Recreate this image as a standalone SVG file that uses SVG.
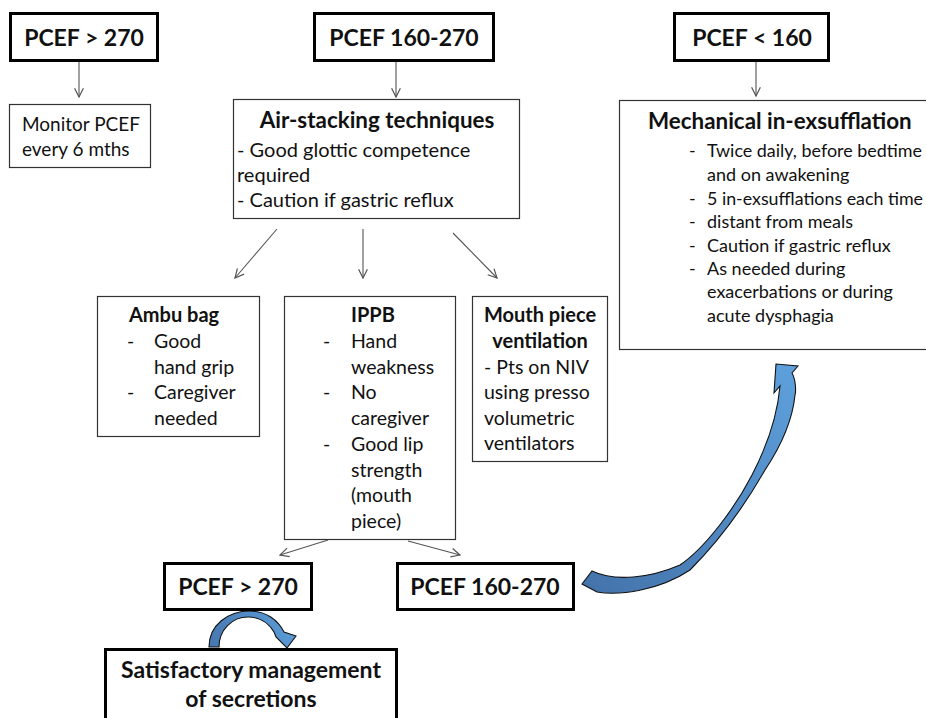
<svg xmlns="http://www.w3.org/2000/svg" width="926" height="718" viewBox="0 0 926 718">
<style>
text{font-family:Lato,Carlito,"Liberation Sans",sans-serif;fill:#111}
.h{font-size:23px;font-weight:bold;text-anchor:middle}
.t{font-size:20px;font-weight:bold}
.tb{font-size:22.4px;font-weight:bold}
.r{font-size:19.5px}
.ra{font-size:20px}
.rm{font-size:18px}
.rn{font-size:19px}
.c{text-anchor:middle}
.thick{fill:#fff;stroke:#000;stroke-width:3}
.thin{fill:#fff;stroke:#333;stroke-width:1.2}
.con{stroke:#555;stroke-width:1.1;fill:none;marker-end:url(#v)}
.blue{stroke:#111;stroke-width:1.1}
</style>
<defs>
<marker id="v" viewBox="0 0 10 10" refX="9" refY="5" markerWidth="11" markerHeight="11" markerUnits="userSpaceOnUse" orient="auto">
<path d="M1,1 L9,5 L1,9" fill="none" stroke="#555" stroke-width="1.1"/>
</marker>
<linearGradient id="g1" gradientUnits="userSpaceOnUse" x1="800" y1="365" x2="600" y2="595">
<stop offset="0" stop-color="#5ea1dd"/>
<stop offset="1" stop-color="#4574ac"/>
</linearGradient>
<linearGradient id="g2" gradientUnits="userSpaceOnUse" x1="290" y1="615" x2="210" y2="647">
<stop offset="0" stop-color="#5b9cd7"/>
<stop offset="1" stop-color="#4777b0"/>
</linearGradient>
</defs>
<rect width="926" height="718" fill="#fff"/>

<g id="connectors">
<line class="con" x1="79" y1="62" x2="79" y2="97"/>
<line class="con" x1="396" y1="62" x2="396" y2="97"/>
<line class="con" x1="756" y1="62" x2="756" y2="96"/>
<line class="con" x1="277" y1="229" x2="235" y2="278"/>
<line class="con" x1="363" y1="229" x2="363" y2="278"/>
<line class="con" x1="453" y1="233" x2="497" y2="278"/>
<line class="con" x1="328" y1="540" x2="280" y2="555"/>
<line class="con" x1="408" y1="541" x2="460" y2="555"/>
<path id="arrow-big" class="blue" fill="url(#g1)" d="M592,571 C615,582 650,578 680,565 C705,548 735,508 752,475 C765,450 777,420 780,386 L774,393 L776,364 L798,366 L792,373 C796,380 796,392 795,395 C793,415 785,440 765,470 C745,505 720,540 690,570 C660,590 620,596 597,592 L582,584 Z"/>
<path id="arrow-small" class="blue" fill="url(#g2)" d="M209,647 C209,625 228,611 250,611 C266,611 278,620 284,632 L296,636 L287,648 L276,637 L274,632 C268,622 258,617 248,617 C232,617 219,630 219,647 Z"/>
</g>

<g id="n-pcef270-top">
<rect class="thick" x="10.5" y="13.5" width="147" height="47"/>
<text class="h" x="84" y="46">PCEF &gt; 270</text>
</g>
<g id="n-pcef160270-top">
<rect class="thick" x="314.5" y="13.5" width="179" height="47"/>
<text class="h" x="404" y="46">PCEF 160-270</text>
</g>
<g id="n-pcef160-top">
<rect class="thick" x="674.5" y="13.5" width="154" height="47"/>
<text class="h" x="752" y="46">PCEF &lt; 160</text>
</g>

<g id="n-monitor">
<rect class="thin" x="9.5" y="104.5" width="141" height="63"/>
<text class="rn" x="22" y="131">Monitor PCEF</text>
<text class="rn" x="22" y="156">every 6 mths</text>
</g>

<g id="n-airstack">
<rect class="thin" x="233.5" y="99.5" width="286" height="119"/>
<text class="tb c" x="377" y="128">Air-stacking techniques</text>
<text class="ra" x="237" y="157">- Good glottic competence</text>
<text class="ra" x="237" y="182">required</text>
<text class="ra" x="237" y="207">- Caution if gastric reflux</text>
</g>

<g id="n-mie">
<rect class="thin" x="619.5" y="100.5" width="320" height="249"/>
<text class="tb" x="648" y="129">Mechanical in-exsufflation</text>
<text class="rm" x="689" y="157">-</text><text class="rm" x="707" y="157" textLength="215" lengthAdjust="spacingAndGlyphs">Twice daily, before bedtime</text>
<text class="rm" x="707" y="181">and on awakening</text>
<text class="rm" x="689" y="205">-</text><text class="rm" x="707" y="205" textLength="216" lengthAdjust="spacingAndGlyphs">5 in-exsufflations each time</text>
<text class="rm" x="689" y="228">-</text><text class="rm" x="707" y="228">distant from meals</text>
<text class="rm" x="689" y="252">-</text><text class="rm" x="707" y="252">Caution if gastric reflux</text>
<text class="rm" x="689" y="275">-</text><text class="rm" x="707" y="275">As needed during</text>
<text class="rm" x="707" y="298">exacerbations or during</text>
<text class="rm" x="707" y="322">acute dysphagia</text>
</g>

<g id="n-ambu">
<rect class="thin" x="97.5" y="296.5" width="162" height="140"/>
<text class="t" x="129" y="322">Ambu bag</text>
<text class="r" x="127" y="348">-</text><text class="r" x="154" y="348">Good</text>
<text class="r" x="154" y="374">hand grip</text>
<text class="r" x="127" y="399">-</text><text class="r" x="154" y="399">Caregiver</text>
<text class="r" x="154" y="425">needed</text>
</g>

<g id="n-ippb">
<rect class="thin" x="284.5" y="296.5" width="171" height="243"/>
<text class="t" x="351" y="322">IPPB</text>
<text class="r" x="323" y="348">-</text><text class="r" x="351" y="348">Hand</text>
<text class="r" x="351" y="374">weakness</text>
<text class="r" x="323" y="399">-</text><text class="r" x="351" y="399">No</text>
<text class="r" x="351" y="425">caregiver</text>
<text class="r" x="323" y="451">-</text><text class="r" x="351" y="451">Good lip</text>
<text class="r" x="351" y="477">strength</text>
<text class="r" x="351" y="502">(mouth</text>
<text class="r" x="351" y="528">piece)</text>
</g>

<g id="n-mouthpiece">
<rect class="thin" x="472.5" y="296.5" width="135" height="165"/>
<text class="t c" x="540" y="322">Mouth piece</text>
<text class="t c" x="540" y="348">ventilation</text>
<text class="r" x="484" y="374">- Pts on NIV</text>
<text class="r" x="484" y="399">using presso</text>
<text class="r" x="484" y="425">volumetric</text>
<text class="r" x="484" y="450">ventilators</text>
</g>

<g id="n-pcef270-bottom">
<rect class="thick" x="164.5" y="563.5" width="147" height="46"/>
<text class="h" x="238" y="595">PCEF &gt; 270</text>
</g>
<g id="n-pcef160270-bottom">
<rect class="thick" x="397.5" y="563.5" width="176" height="46"/>
<text class="h" x="485" y="595">PCEF 160-270</text>
</g>
<g id="n-satisfactory">
<rect class="thick" x="105.5" y="649.5" width="291" height="80"/>
<text class="h" x="251" y="678">Satisfactory management</text>
<text class="h" x="251" y="707">of secretions</text>
</g>
</svg>
